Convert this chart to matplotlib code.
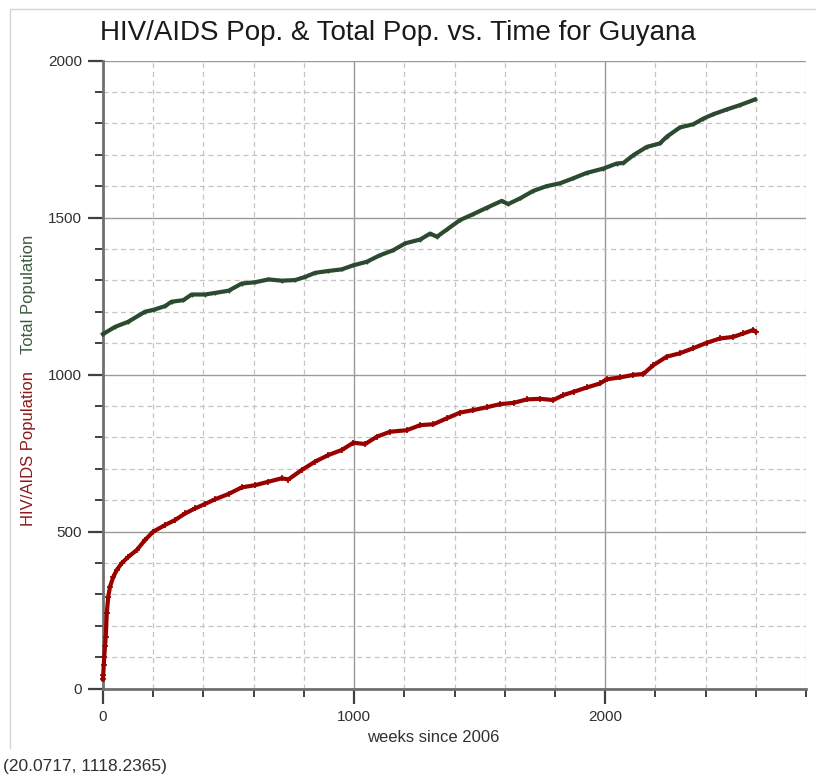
import matplotlib
matplotlib.use("Agg")
import matplotlib.pyplot as plt
from matplotlib.ticker import MultipleLocator
from matplotlib.lines import Line2D

plt.rcParams['font.family'] = ['Liberation Sans', 'DejaVu Sans']

# Total population by week
weeks_total = [0, 48, 100, 167, 204, 247, 273, 320, 353, 406, 446, 500, 553, 606,
               659, 712, 765, 805, 845, 898, 951, 997, 1050, 1103, 1156, 1204,
               1263, 1303, 1330, 1370, 1422, 1475, 1528, 1588, 1614, 1661, 1714,
               1767, 1820, 1873, 1926, 1993, 2046, 2073, 2113, 2166, 2218, 2245,
               2298, 2351, 2391, 2431, 2484, 2537, 2597]
total_pop = [1129, 1152, 1168, 1200, 1207, 1218, 1232, 1237, 1255, 1255, 1260, 1267,
             1290, 1294, 1303, 1299, 1301, 1311, 1324, 1330, 1335, 1348, 1359, 1380,
             1396, 1418, 1430, 1449, 1439, 1462, 1492, 1511, 1531, 1553, 1543, 1561,
             1585, 1600, 1609, 1625, 1642, 1656, 1672, 1674, 1699, 1725, 1736, 1757,
             1787, 1797, 1815, 1829, 1844, 1858, 1876]

# HIV/AIDS population by week
weeks_hiv = [0, 1, 3, 5, 8, 11, 15, 21, 28, 41, 55, 74, 101, 134, 167, 200, 247,
             287, 327, 367, 406, 446, 500, 553, 606, 659, 712, 738, 791, 845, 898,
             951, 997, 1044, 1090, 1143, 1210, 1263, 1316, 1370, 1422, 1475, 1528,
             1582, 1635, 1688, 1741, 1794, 1834, 1874, 1927, 1980, 2006, 2059, 2112,
             2152, 2192, 2245, 2298, 2351, 2404, 2457, 2510, 2550, 2590, 2600]
hiv_pop = [30, 45, 75, 102, 135, 166, 240, 293, 325, 356, 378, 399, 420, 441, 473,
           500, 521, 537, 558, 574, 588, 603, 620, 641, 648, 659, 670, 666, 696, 723,
           744, 760, 783, 779, 802, 818, 823, 839, 842, 861, 879, 887, 896, 906, 910,
           921, 923, 919, 935, 945, 959, 972, 985, 991, 999, 1002, 1030, 1057, 1068,
           1084, 1101, 1115, 1120, 1131, 1142, 1136]

x_ticks = [0, 1000, 2000]
y_ticks = [0, 500, 1000, 1500, 2000]

W, H = 816, 780
fig = plt.figure(figsize=(W / 100, H / 100), dpi=100)
fig.patch.set_facecolor('white')

# light panel edge along the top and left
fig.add_artist(Line2D([10 / W, 10 / W, 1.0], [1 - 748 / H, 1 - 9 / H, 1 - 9 / H],
                      transform=fig.transFigure, color='#d4d4d4', linewidth=1.0))

ax = fig.add_axes([103 / W, 1 - 688.7 / H, 703 / W, 628.2 / H])
ax.set_xlim(0, 2800)
ax.set_ylim(0, 2000)

ax.xaxis.set_major_locator(MultipleLocator(1000))
ax.xaxis.set_minor_locator(MultipleLocator(200))
ax.yaxis.set_major_locator(MultipleLocator(500))
ax.yaxis.set_minor_locator(MultipleLocator(100))
ax.set_xticks(x_ticks)
ax.set_yticks(y_ticks)

ax.grid(which='major', color='#9a9a9a', linestyle='-', linewidth=1.0)
ax.grid(which='minor', color='#c4c4c4', linestyle=(0, (4, 3)), linewidth=0.9)
ax.set_axisbelow(True)

for s in ('top', 'right'):
    ax.spines[s].set_visible(False)
for s in ('left', 'bottom'):
    ax.spines[s].set_color('#707070')
    ax.spines[s].set_linewidth(2.0)

ax.tick_params(which='major', direction='out', length=11, width=1.6,
               color='#404040', labelsize=11, labelcolor='#303030', pad=4)
ax.tick_params(which='minor', direction='out', length=6, width=1.4,
               color='#404040')

green = '#2b4a2f'
red = '#990000'
ax.plot(weeks_total, total_pop, color=green, linewidth=3.0, solid_joinstyle='round',
        marker='+', markersize=3, clip_on=False, zorder=3)
ax.plot(weeks_hiv, hiv_pop, color=red, linewidth=3.0, solid_joinstyle='round',
        marker='+', markersize=4, markeredgewidth=1.2, clip_on=False, zorder=3)

fig.text(398 / W, 1 - 33 / H, 'HIV/AIDS Pop. & Total Pop. vs. Time for Guyana',
         ha='center', va='center', fontsize=20, color='#1a1a1a')
fig.text(433 / W, 1 - 738 / H, 'weeks since 2006', ha='center', va='center',
         fontsize=12, color='#303030')
fig.text(29 / W, 1 - 449 / H, 'HIV/AIDS Population', rotation=90, ha='center',
         va='center', fontsize=12, color='#8b1a1a')
fig.text(29 / W, 1 - 294 / H, 'Total Population', rotation=90, ha='center',
         va='center', fontsize=12, color='#3c5a3c')
fig.text(3 / W, 1 - 767 / H, '(20.0717, 1118.2365)', ha='left', va='center',
         fontsize=12.5, color='#303030')

fig.savefig('out.png', dpi=100, facecolor='white')
